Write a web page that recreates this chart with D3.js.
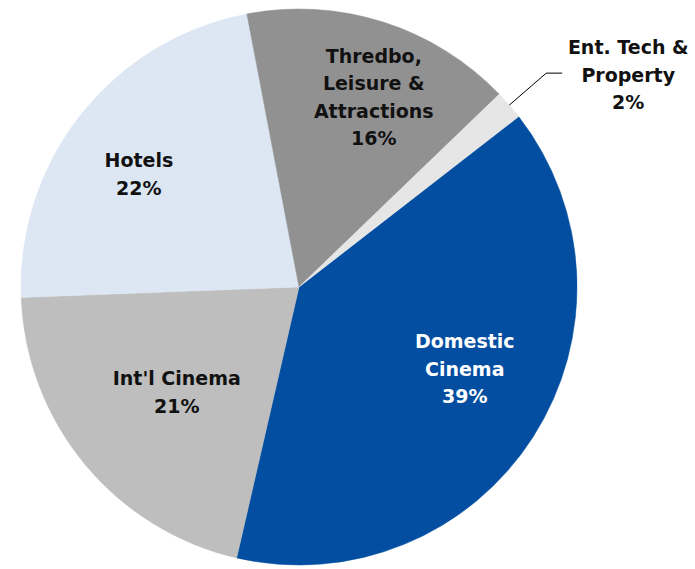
<!DOCTYPE html>
<html>
<head>
<meta charset="utf-8">
<script src="https://cdn.jsdelivr.net/npm/d3@7"></script>
<style>
html,body{margin:0;padding:0;background:#fff;}
svg{display:block;}
text{font-family:Tahoma,"DejaVu Sans",Verdana,sans-serif;font-weight:bold;}
</style>
</head>
<body>
<svg id="chart" width="695" height="569"></svg>
<script>
// Data
const categories = ["Domestic Cinema", "Int'l Cinema", "Hotels", "Thredbo, Leisure & Attractions", "Ent. Tech & Property"];
const labelLines = [["Domestic", "Cinema"], ["Int'l Cinema"], ["Hotels"], ["Thredbo,", "Leisure &", "Attractions"], ["Ent. Tech &", "Property"]];
const values = [39.1, 20.8, 22.6, 15.8, 1.7];
const pctLabels = ["39%", "21%", "22%", "16%", "2%"];
const colors = ["#034EA0", "#BEBEBE", "#DCE7F3", "#919191", "#E6E6E6"];
const textColors = ["#ffffff", "#111111", "#111111", "#111111", "#111111"];

// Layout
const W = 695, H = 569;
const cx = 299, cy = 287, R = 278;
const startDeg = 52.2;
// label placement (polar: degrees clockwise from top, fraction of radius); null => outside with leader
const labelPolar = [[116.3, 0.665], [229.3, 0.58], [305.2, 0.705], [21.5, 0.734], null];
const fontSize = 19, lineH = 27.5;

const svg = d3.select("#chart");
const g = svg.append("g").attr("transform", `translate(${cx},${cy})`);

const pie = d3.pie().sort(null).value(d => d)
  .startAngle(startDeg * Math.PI / 180)
  .endAngle(startDeg * Math.PI / 180 + 2 * Math.PI);
const arcs = pie(values);
const arc = d3.arc().innerRadius(0).outerRadius(R);

g.selectAll("path.slice").data(arcs).enter().append("path")
  .attr("class", "slice")
  .attr("d", arc)
  .attr("fill", (d, i) => colors[i])
  .attr("stroke", (d, i) => colors[i])
  .attr("stroke-width", 0.5);

function polar(deg, r) {
  const a = deg * Math.PI / 180;
  return [r * Math.sin(a), -r * Math.cos(a)];
}

arcs.forEach((d, i) => {
  const lines = labelLines[i].concat([pctLabels[i]]);
  let x, y;
  if (labelPolar[i]) {
    [x, y] = polar(labelPolar[i][0], labelPolar[i][1] * R);
  } else {
    // outside label with leader line
    const mid = (d.startAngle + d.endAngle) / 2 * 180 / Math.PI;
    const p0 = polar(mid, R);
    const p1 = [p0[0] + 37, p0[1] - 32];
    const p2 = [p1[0] + 16, p1[1]];
    g.append("polyline")
      .attr("points", [p0, p1, p2].map(p => p.join(",")).join(" "))
      .attr("fill", "none").attr("stroke", "#000").attr("stroke-width", 1);
    x = p2[0] + 66; y = p2[1] + 2;
  }
  const t = g.append("text")
    .attr("text-anchor", "middle")
    .attr("fill", textColors[i])
    .attr("font-size", fontSize);
  const y0 = y - (lines.length - 1) * lineH / 2;
  lines.forEach((ln, k) => {
    t.append("tspan").attr("x", x).attr("y", y0 + k * lineH).attr("dy", "0.36em").text(ln);
  });
});
</script>
</body>
</html>
